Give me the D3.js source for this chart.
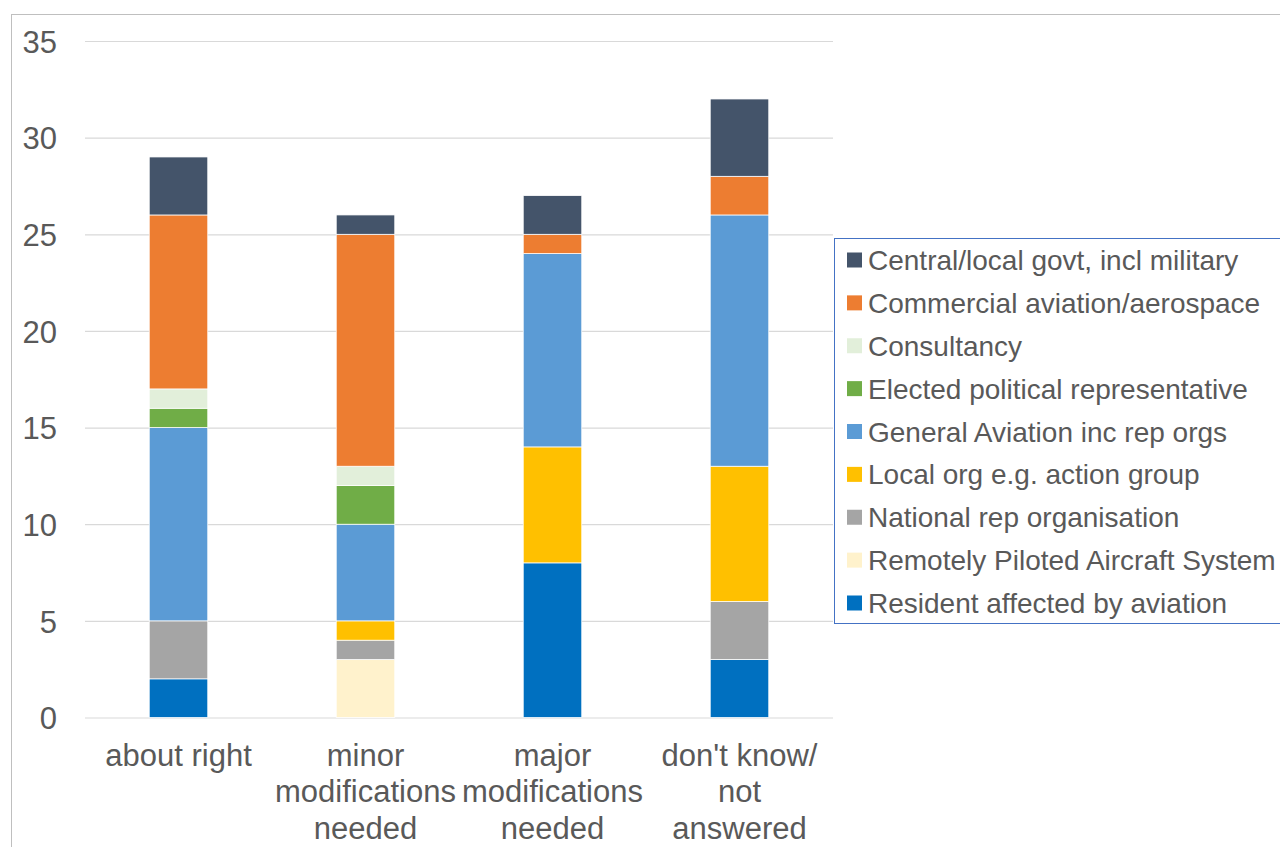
<!DOCTYPE html>
<html>
<head>
<meta charset="utf-8">
<script src="https://cdn.jsdelivr.net/npm/d3@7/dist/d3.min.js"></script>
<style>
  html, body { margin: 0; padding: 0; background: #fff; }
  svg { display: block; font-family: "Liberation Sans", Arial, sans-serif; }
</style>
</head>
<body>
<svg id="chart" width="1280" height="847"></svg>
<script>
// ---- data ----
const categories = [
  ["about right"],
  ["minor", "modifications", "needed"],
  ["major", "modifications", "needed"],
  ["don't know/", "not", "answered"]
];
const categoryKeys = ["about right", "minor modifications needed", "major modifications needed", "don't know/ not answered"];

// stacking order: bottom -> top
const seriesNames = [
  "Resident affected by aviation",
  "Remotely Piloted Aircraft System",
  "National rep organisation",
  "Local org e.g. action group",
  "General Aviation inc rep orgs",
  "Elected political representative",
  "Consultancy",
  "Commercial aviation/aerospace",
  "Central/local govt, incl military"
];
const seriesColors = ["#0070C0", "#FFF2CC", "#A5A5A5", "#FFC000", "#5B9BD5", "#70AD47", "#E2EFDA", "#ED7D31", "#44546A"];

const resident    = [2, 0, 8, 3];
const rpas        = [0, 3, 0, 0];
const national    = [3, 1, 0, 3];
const localOrg    = [0, 1, 6, 7];
const generalAv   = [10, 5, 10, 13];
const elected     = [1, 2, 0, 0];
const consultancy = [1, 1, 0, 0];
const commercial  = [9, 12, 1, 2];
const central     = [3, 1, 2, 4];

const seriesValues = [resident, rpas, national, localOrg, generalAv, elected, consultancy, commercial, central];
const yTicks = [0, 5, 10, 15, 20, 25, 30, 35];

// ---- build table ----
const table = categoryKeys.map((c, i) => {
  const row = { cat: c };
  seriesNames.forEach((s, j) => row[s] = seriesValues[j][i]);
  return row;
});

const svg = d3.select("#chart");
const textColor = "#595959";

// outer chart border
svg.append("rect")
  .attr("x", 11.5).attr("y", 14.5)
  .attr("width", 1400).attr("height", 1000)
  .attr("fill", "none").attr("stroke", "#BFBFBF").attr("stroke-width", 1);

const plot = { left: 85, right: 833, top: 41, bottom: 717.5 };

const x = d3.scaleBand()
  .domain(categoryKeys)
  .range([plot.left, plot.right])
  .paddingInner(0.687)
  .paddingOuter(0.3435);

const y = d3.scaleLinear().domain([0, 35]).range([plot.bottom, plot.top]);

// gridlines
const yAxis = d3.axisLeft(y).tickValues(yTicks).tickSize(-(plot.right - plot.left)).tickPadding(28);
const gy = svg.append("g").attr("transform", `translate(${plot.left},0)`).call(yAxis);
gy.select(".domain").remove();
gy.selectAll(".tick line").attr("stroke", "#D9D9D9").attr("stroke-width", 1.2);
gy.selectAll(".tick text")
  .attr("fill", textColor)
  .attr("font-size", 31)
  .attr("font-family", "'Liberation Sans', Arial, sans-serif")
  .attr("dy", "0.36em");

// stacks
const stack = d3.stack().keys(seriesNames);
const stacked = stack(table);

svg.append("g").selectAll("g")
  .data(stacked)
  .join("g")
  .attr("fill", (d, i) => seriesColors[i])
  .selectAll("rect")
  .data(d => d.filter(p => p[1] - p[0] > 0))
  .join("rect")
  .attr("x", d => x(d.data.cat))
  .attr("width", x.bandwidth())
  .attr("y", d => y(d[1]))
  .attr("height", d => y(d[0]) - y(d[1]))
  .attr("stroke", "#fff")
  .attr("stroke-width", 0.75);

// x axis labels
const xAxis = d3.axisBottom(x).tickSize(0).tickFormat(() => "");
const gx = svg.append("g").attr("transform", `translate(0,${plot.bottom})`).call(xAxis);
gx.select(".domain").remove();
gx.selectAll(".tick").each(function(d, i) {
  const t = d3.select(this).append("text")
    .attr("fill", textColor)
    .attr("font-size", 31)
    .attr("font-family", "'Liberation Sans', Arial, sans-serif")
    .attr("text-anchor", "middle");
  categories[i].forEach((line, k) => {
    t.append("tspan").attr("x", 0).attr("y", 48 + k * 36.5).text(line);
  });
});

// legend
const legend = svg.append("g");
legend.append("rect")
  .attr("x", 834.5).attr("y", 238.5)
  .attr("width", 500).attr("height", 385)
  .attr("fill", "#fff").attr("stroke", "#4472C4").attr("stroke-width", 1);

const legendOrder = seriesNames.map((s, i) => i).reverse();
const ly = d3.scalePoint().domain(legendOrder).range([260, 603]);
legendOrder.forEach((idx) => {
  const cy = ly(idx);
  legend.append("rect")
    .attr("x", 847).attr("y", cy - 7.5)
    .attr("width", 15).attr("height", 15)
    .attr("fill", seriesColors[idx]);
  legend.append("text")
    .attr("x", 868).attr("y", cy)
    .attr("dy", "0.36em")
    .attr("fill", textColor)
    .attr("font-size", 28)
    .attr("font-family", "'Liberation Sans', Arial, sans-serif")
    .text(seriesNames[idx]);
});
</script>
</body>
</html>
